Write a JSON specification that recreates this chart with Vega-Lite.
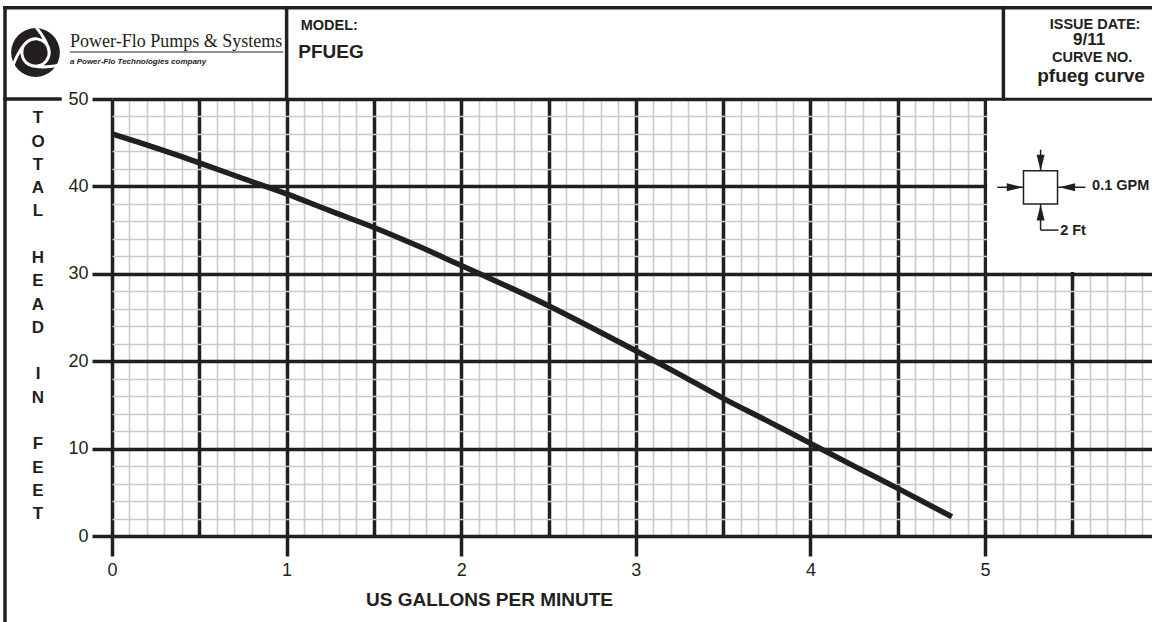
{
  "$schema": "https://vega.github.io/schema/vega-lite/v6.json",
  "autosize": {"type": "none"},
  "width": 1040,
  "height": 437,
  "padding": {"left": 112, "top": 99, "right": 0, "bottom": 86},
  "background": "white",
  "config": {"view": {"stroke": null}, "font": "Liberation Sans"},
  "datasets": {
    "curve": [
      {"x": 0, "y": 46.0},
      {"x": 0.25, "y": 44.4},
      {"x": 0.5, "y": 42.7},
      {"x": 0.75, "y": 40.9},
      {"x": 1.0, "y": 39.15},
      {"x": 1.25, "y": 37.2},
      {"x": 1.5, "y": 35.3},
      {"x": 1.75, "y": 33.2},
      {"x": 2.0, "y": 30.95},
      {"x": 2.25, "y": 28.7},
      {"x": 2.5, "y": 26.35},
      {"x": 2.75, "y": 23.8},
      {"x": 3.0, "y": 21.2},
      {"x": 3.25, "y": 18.5},
      {"x": 3.5, "y": 15.75},
      {"x": 3.75, "y": 13.2},
      {"x": 4.0, "y": 10.6},
      {"x": 4.25, "y": 8.0},
      {"x": 4.5, "y": 5.45},
      {"x": 4.81, "y": 2.2}
    ],
    "blank": [{"x": 5.012, "x2": 5.956, "y": 30.2, "y2": 49.8}],
    "borders": [
      {"x": -0.6128, "x2": 5.956, "y": 60.45, "y2": 60.45},
      {"x": -0.6128, "x2": -0.6128, "y": 60.45, "y2": -9.84},
      {"x": 1.0, "x2": 1.0, "y": 60.45, "y2": 50},
      {"x": 5.105, "x2": 5.105, "y": 60.45, "y2": 50},
      {"x": -0.6128, "x2": -0.298, "y": 50, "y2": 50}
    ],
    "underline": [{"x": -0.2405, "x2": 0.98, "y": 55.38, "y2": 55.38}],
    "legendBox": [{"x": 5.22, "x2": 5.415, "y": 38.0, "y2": 41.8}],
    "legendLines": [
      {"x": 5.318, "x2": 5.318, "y": 44.2, "y2": 41.8},
      {"x": 5.07, "x2": 5.22, "y": 39.9, "y2": 39.9},
      {"x": 5.415, "x2": 5.575, "y": 39.9, "y2": 39.9},
      {"x": 5.318, "x2": 5.318, "y": 38.0, "y2": 35.0},
      {"x": 5.318, "x2": 5.42, "y": 35.0, "y2": 35.0}
    ],
    "arrows": [
      {"x": 5.318, "y": 42.7, "dir": "down"},
      {"x": 5.17, "y": 39.9, "dir": "right"},
      {"x": 5.47, "y": 39.9, "dir": "left"},
      {"x": 5.318, "y": 37.0, "dir": "up"}
    ],
    "logo": [{"x": -0.438, "y": 55.32}],
    "ytitle": [
      {"x": -0.4238, "y": 47.22, "t": "T O T A L"},
      {"x": -0.4238, "y": 31.22, "t": "H E A D"},
      {"x": -0.4238, "y": 17.91, "t": "I N"},
      {"x": -0.4238, "y": 9.92, "t": "F E E T"}
    ]
  },
  "encoding": {
    "x": {
      "field": "x", "type": "quantitative",
      "scale": {"domain": [0, 5.956], "nice": false, "zero": false},
      "axis": {
        "values": [0,0.1,0.2,0.3,0.4,0.5,0.6,0.7,0.8,0.9,1,1.1,1.2,1.3,1.4,1.5,1.6,1.7,1.8,1.9,2,2.1,2.2,2.3,2.4,2.5,2.6,2.7,2.8,2.9,3,3.1,3.2,3.3,3.4,3.5,3.6,3.7,3.8,3.9,4,4.1,4.2,4.3,4.4,4.5,4.6,4.7,4.8,4.9,5,5.1,5.2,5.3,5.4,5.5,5.6,5.7,5.8,5.9],
        "tickCount": 200,
        "tickMinStep": 0.01,
        "grid": true,
        "gridColor": {"condition": {"test": "abs(datum.value*2-round(datum.value*2))<0.001", "value": "#231f20"}, "value": "#cacacd"},
        "gridWidth": {"condition": {"test": "abs(datum.value*2-round(datum.value*2))<0.001", "value": 3.5}, "value": 1.6},
        "gridOpacity": 1,
        "domain": false,
        "ticks": true,
        "tickSize": 20,
        "tickWidth": 3.5,
        "tickColor": {"condition": {"test": "abs(datum.value-round(datum.value))<0.001", "value": "#231f20"}, "value": "rgba(0,0,0,0)"},
        "labelExpr": "abs(datum.value-round(datum.value))<0.001 ? format(round(datum.value),'d') : ''",
        "labelFont": "Liberation Sans", "labelFontSize": 18, "labelColor": "#231f20",
        "labelPadding": 5, "labelFlush": false, "labelOverlap": false, "labelBaseline": "top",
        "title": "US GALLONS PER MINUTE",
        "titleFont": "Liberation Sans", "titleFontSize": 19, "titleFontWeight": "bold", "titleColor": "#231f20",
        "titleX": 377, "titleY": 69, "titleAlign": "center", "titleBaseline": "alphabetic"
      }
    },
    "y": {
      "field": "y", "type": "quantitative",
      "scale": {"domain": [0, 50], "nice": false, "zero": false},
      "axis": {
        "values": [0,2,4,6,8,10,12,14,16,18,20,22,24,26,28,30,32,34,36,38,40,42,44,46,48,50],
        "tickCount": 200,
        "tickMinStep": 0.1,
        "grid": true,
        "gridColor": {"condition": {"test": "datum.value % 10 === 0", "value": "#231f20"}, "value": "#cacacd"},
        "gridWidth": {"condition": {"test": "datum.value % 10 === 0", "value": 3.5}, "value": 1.6},
        "gridOpacity": 1,
        "domain": false,
        "tickSize": 20,
        "tickWidth": 3.5,
        "tickColor": {"condition": {"test": "datum.value % 10 === 0", "value": "#231f20"}, "value": "rgba(0,0,0,0)"},
        "labelExpr": "datum.value % 10 === 0 ? format(datum.value,'d') : ''",
        "labelFont": "Liberation Sans", "labelFontSize": 18, "labelColor": "#231f20",
        "labelPadding": 4, "labelBaseline": "middle", "labelAlign": "right", "labelFlush": false, "labelOverlap": false,
        "title": null
      }
    }
  },
  "layer": [
    {
      "data": {"name": "curve"},
      "mark": {"type": "line", "color": "#231f20", "strokeWidth": 5.5, "interpolate": "monotone", "strokeCap": "butt"}
    },
    {
      "data": {"name": "blank"},
      "mark": {"type": "rect", "fill": "white", "stroke": null},
      "encoding": {"x2": {"field": "x2"}, "y2": {"field": "y2"}}
    },
    {
      "data": {"name": "borders"},
      "mark": {"type": "rule", "color": "#231f20", "strokeWidth": 3.5, "strokeCap": "square"},
      "encoding": {"x2": {"field": "x2"}, "y2": {"field": "y2"}}
    },
    {
      "data": {"name": "underline"},
      "mark": {"type": "rule", "color": "#231f20", "strokeWidth": 1.2},
      "encoding": {"x2": {"field": "x2"}, "y2": {"field": "y2"}}
    },
    {
      "data": {"name": "legendBox"},
      "mark": {"type": "rect", "fill": "white", "stroke": "#231f20", "strokeWidth": 1.5},
      "encoding": {"x2": {"field": "x2"}, "y2": {"field": "y2"}}
    },
    {
      "data": {"name": "legendLines"},
      "mark": {"type": "rule", "color": "#231f20", "strokeWidth": 1.5},
      "encoding": {"x2": {"field": "x2"}, "y2": {"field": "y2"}}
    },
    {
      "data": {"name": "arrows"},
      "mark": {"type": "point", "filled": true, "color": "#231f20", "opacity": 1, "size": 256},
      "encoding": {
        "shape": {
          "field": "dir", "type": "nominal", "legend": null,
          "scale": {
            "domain": ["down", "up", "left", "right"],
            "range": ["M-0.5,-1L0.5,-1L0,1Z", "M-0.5,1L0.5,1L0,-1Z", "M1,-0.5L1,0.5L-1,0Z", "M-1,-0.5L-1,0.5L1,0Z"]
          }
        }
      }
    },
    {
      "data": {"name": "logo"},
      "mark": {"type": "point", "shape": "circle", "filled": true, "color": "#231f20", "opacity": 1, "size": 2376}
    },
    {
      "data": {"name": "logo"},
      "mark": {
        "type": "point",
        "shape": "M-0.823,0.475Q-0.564,-0.205 -0.25,-0.433A0.5,0.5 0 0,1 0.433,0.25M0,-0.95Q0.46,-0.386 0.5,0A0.5,0.5 0 0,1 -0.433,0.25M0.823,0.475Q0.104,0.591 -0.25,0.433A0.5,0.5 0 0,1 0,-0.5",
        "filled": false, "stroke": "white", "strokeWidth": 3, "opacity": 1, "size": 3025
      }
    },
    {
      "data": {"name": "ytitle"},
      "mark": {"type": "text", "font": "Liberation Sans", "fontSize": 17, "fontWeight": "bold", "align": "center", "baseline": "alphabetic", "lineBreak": " ", "lineHeight": 23.3, "color": "#231f20"},
      "encoding": {"text": {"field": "t"}}
    },
    {
      "data": {"values": [{"x": -0.2405, "y": 55.95, "t": "Power-Flo Pumps & Systems"}]},
      "mark": {"type": "text", "font": "Liberation Serif", "fontSize": 18, "align": "left", "baseline": "alphabetic", "color": "#231f20"},
      "encoding": {"text": {"field": "t"}}
    },
    {
      "data": {"values": [{"x": -0.2405, "y": 53.95, "t": "a Power-Flo Technologies company"}]},
      "mark": {"type": "text", "font": "Liberation Sans", "fontSize": 8, "fontStyle": "italic", "fontWeight": "bold", "align": "left", "baseline": "alphabetic", "color": "#231f20"},
      "encoding": {"text": {"field": "t"}}
    },
    {
      "data": {"values": [
        {"x": 1.081, "y": 57.89, "t": "MODEL:"},
        {"x": 5.613, "y": 39.59, "t": "0.1 GPM"},
        {"x": 5.43, "y": 34.44, "t": "2 Ft"}
      ]},
      "mark": {"type": "text", "font": "Liberation Sans", "fontSize": 14.5, "fontWeight": "bold", "align": "left", "baseline": "alphabetic", "color": "#231f20"},
      "encoding": {"text": {"field": "t"}}
    },
    {
      "data": {"values": [{"x": 1.067, "y": 54.66, "t": "PFUEG"}]},
      "mark": {"type": "text", "font": "Liberation Sans", "fontSize": 19, "fontWeight": "bold", "align": "left", "baseline": "alphabetic", "color": "#231f20"},
      "encoding": {"text": {"field": "t"}}
    },
    {
      "data": {"values": [
        {"x": 5.63, "y": 58.05, "t": "ISSUE DATE:"},
        {"x": 5.613, "y": 54.23, "t": "CURVE NO."}
      ]},
      "mark": {"type": "text", "font": "Liberation Sans", "fontSize": 14.5, "fontWeight": "bold", "align": "center", "baseline": "alphabetic", "color": "#231f20"},
      "encoding": {"text": {"field": "t"}}
    },
    {
      "data": {"values": [{"x": 5.596, "y": 56.18, "t": "9/11"}]},
      "mark": {"type": "text", "font": "Liberation Sans", "fontSize": 17, "fontWeight": "bold", "align": "center", "baseline": "alphabetic", "color": "#231f20"},
      "encoding": {"text": {"field": "t"}}
    },
    {
      "data": {"values": [{"x": 5.607, "y": 51.95, "t": "pfueg curve"}]},
      "mark": {"type": "text", "font": "Liberation Sans", "fontSize": 19, "fontWeight": "bold", "align": "center", "baseline": "alphabetic", "color": "#231f20"},
      "encoding": {"text": {"field": "t"}}
    }
  ]
}
